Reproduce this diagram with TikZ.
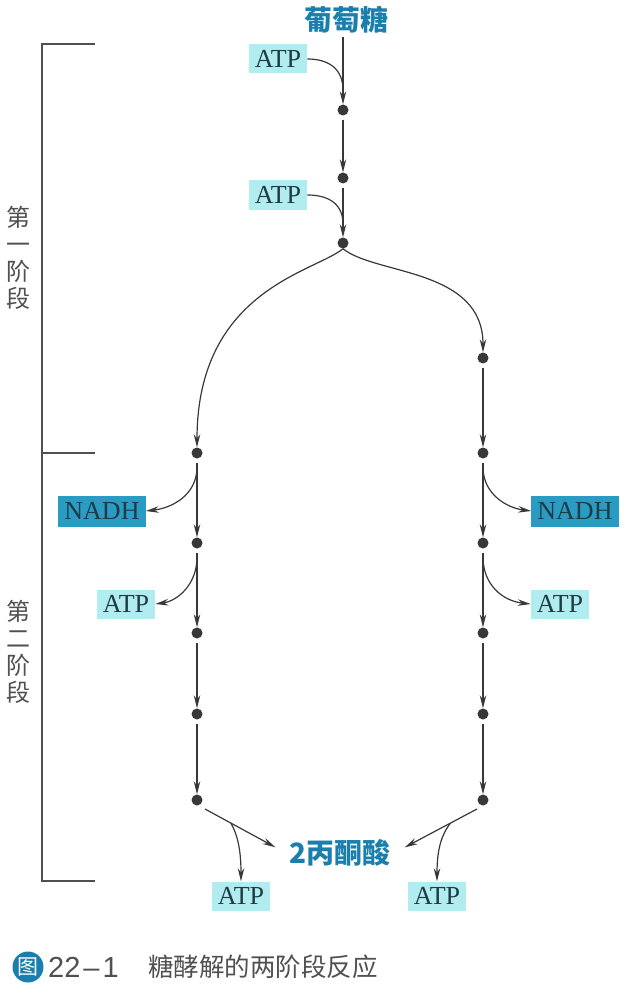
\documentclass[tikz,border=0pt]{standalone}
\usepackage{fontspec}
\setmainfont{Liberation Serif}
\newfontfamily\cjk{Noto Sans CJK SC}
\newfontfamily\capsans{Liberation Sans}
\usetikzlibrary{arrows.meta}
\definecolor{teal1}{HTML}{1B7FAE}
\definecolor{atpfill}{HTML}{B0ECF0}
\definecolor{nadhfill}{HTML}{2A9CC4}
\definecolor{txtdark}{HTML}{1E3C44}
\definecolor{linegray}{HTML}{383838}
\definecolor{capgray}{HTML}{505050}
\begin{document}
\begin{tikzpicture}[x=1pt,y=-1pt,
  dot/.style={circle,fill=linegray,inner sep=0pt,minimum size=11pt},
  atp/.style={fill=atpfill,text=txtdark,font=\fontsize{26}{28}\selectfont,inner xsep=6pt,inner ysep=3pt,minimum height=29pt},
  nadh/.style={fill=nadhfill,text=txtdark,font=\fontsize{26}{28}\selectfont,inner xsep=6pt,inner ysep=3pt,minimum height=31pt},
  arr/.style={draw=linegray,line width=1.2pt,-{Stealth[length=13pt,width=6.5pt]}},
  ln/.style={draw=linegray,line width=1.2pt},
  brk/.style={draw=capgray,line width=1.3pt},
  side/.style={font=\cjk\fontsize{24}{27}\selectfont,text=capgray,align=center},
  chem/.style={font=\cjk\bfseries\fontsize{28}{30}\selectfont,text=teal1}]
\useasboundingbox (0,0) rectangle (624,995);

% top chain
\node[chem] (glc) at (346,20) {葡萄糖};
\node[atp] (atp1) at (278,59) {ATP};
\node[dot] (d1) at (343,110) {};
\node[dot] (d2) at (343,178) {};
\node[atp] (atp2) at (278,195) {ATP};
\node[dot] (d3) at (343,243) {};

\draw[arr] (glc.south -| d1) -- (d1.north);
\coordinate (j1) at (343,90);
\draw[ln] (atp1.east) .. controls (330,59) and (343,70) .. (j1);
\draw[arr] (d1.south) ++(0,4) -- (d2.north);
\draw[arr] (d2.south) ++(0,4) -- (d3.north);
\coordinate (j2) at (343,224);
\draw[ln] (atp2.east) .. controls (330,195) and (343,205) .. (j2);

% columns
\node[dot] (r0) at (483,358) {};
\foreach \n/\y in {1/453,2/543,3/633,4/714,5/800}{
  \node[dot] (l\n) at (197,\y) {};
  \node[dot] (r\n) at (483,\y) {};
}
\draw[arr] (d3.south) .. controls (315,272) and (197,290) .. (l1.north);
\draw[arr] (d3.south) .. controls (375,275) and (483,268) .. (r0.north);
\draw[arr] (r0.south) ++(0,4) -- (r1.north);
\foreach \a/\b in {1/2,2/3,3/4,4/5}{
  \draw[arr] (l\a.south) ++(0,4) -- (l\b.north);
  \draw[arr] (r\a.south) ++(0,4) -- (r\b.north);
}

% side products
\node[nadh] (nadhL) at (102,511) {NADH};
\node[nadh] (nadhR) at (575,511) {NADH};
\node[atp] (atpL) at (126,604) {ATP};
\node[atp] (atpR) at (560,604) {ATP};
\coordinate (bL1) at (197,467);
\coordinate (bR1) at (483,467);
\coordinate (bL2) at (197,557);
\coordinate (bR2) at (483,557);
\draw[arr] (bL1) .. controls (197,495) and (172,508) .. (nadhL.east);
\draw[arr] (bR1) .. controls (483,495) and (508,508) .. (nadhR.west);
\draw[arr] (bL2) .. controls (197,585) and (177,601) .. (atpL.east);
\draw[arr] (bR2) .. controls (483,585) and (503,601) .. (atpR.west);

% bottom
\node[chem] (pyr) at (340,853) {2丙酮酸};
\node[atp] (atpB1) at (241,896) {ATP};
\node[atp] (atpB2) at (437,896) {ATP};
\coordinate (sL) at (205,809);
\coordinate (sR) at (477,809);
\draw[arr,shorten >=12pt] (sL) -- coordinate[pos=0.32] (cL) (pyr.west);
\draw[arr,shorten >=12pt] (sR) -- coordinate[pos=0.32] (cR) (pyr.east);
\draw[arr] (cL) .. controls (237,834) and (241,848) .. (atpB1.north);
\draw[arr] (cR) .. controls (442,834) and (437,848) .. (atpB2.north);

% brackets
\coordinate (bt) at (42,44);
\coordinate (bm) at (42,453);
\coordinate (bb) at (42,881);
\draw[brk] (95,44) -- (bt) -- (bb) -- (95,881);
\draw[brk] (bm) -- (95,453);
\node[side] (s1) at (18,258) {第\\一\\阶\\段};
\node[side] (s2) at (18,652) {第\\二\\阶\\段};

% caption
\node[circle,fill=teal1,inner sep=0pt,minimum size=31pt,text=white,font=\cjk\fontsize{21}{22}\selectfont] (ic) at (28,967) {图};
\node[anchor=west,text=capgray,font=\capsans\fontsize{29}{30}\selectfont,inner sep=0pt] (cn) at (48,967) {22\kern3pt–\kern3pt1};
\node[anchor=west,text=capgray,font=\cjk\fontsize{25.5}{28}\selectfont,inner sep=0pt] (ct) at (148,967) {糖酵解的两阶段反应};
\end{tikzpicture}
\end{document}
